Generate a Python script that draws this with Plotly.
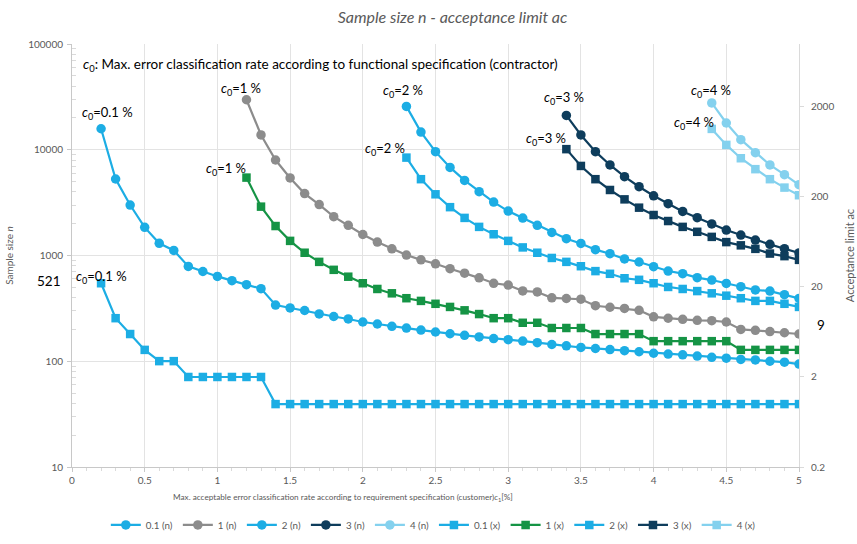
import math
import plotly.graph_objects as go

# Max. acceptable error classification rate c1 [%] (customer)
RATES = [0.2, 0.3, 0.4, 0.5, 0.6, 0.7, 0.8, 0.9, 1.0, 1.1, 1.2, 1.3, 1.4, 1.5, 1.6,
         1.7, 1.8, 1.9, 2.0, 2.1, 2.2, 2.3, 2.4, 2.5, 2.6, 2.7, 2.8, 2.9, 3.0, 3.1,
         3.2, 3.3, 3.4, 3.5, 3.6, 3.7, 3.8, 3.9, 4.0, 4.1, 4.2, 4.3, 4.4, 4.5, 4.6,
         4.7, 4.8, 4.9, 5.0]

# Sample size n per contractor rate c0
n_01 = [15800, 5290, 3000, 1845, 1303, 1117, 789, 706, 634, 578, 530, 486, 340, 319,
        302, 280, 265, 251, 235, 225, 214, 206, 197, 189, 182, 176, 170, 164, 160, 155,
        150, 144, 140, 135, 132, 129, 126, 123, 119, 117, 115, 112, 109, 107, 104, 103,
        100, 98, 94]
n_1 = [29700, 13800, 8000, 5410, 3850, 3030, 2330, 1930, 1580, 1340, 1156, 1010, 910,
       835, 750, 680, 615, 546, 525, 462, 452, 398, 392, 386, 335, 324, 316, 303, 263,
       255, 249, 244, 242, 235, 200, 196, 191, 186, 181]
n_2 = [25700, 14700, 9590, 6810, 5130, 4010, 3200, 2630, 2260, 1930, 1650, 1442, 1300,
       1135, 1040, 927, 868, 783, 713, 673, 617, 586, 545, 507, 472, 461, 426, 393]
n_3 = [21100, 13800, 9590, 7180, 5560, 4470, 3670, 3090, 2610, 2280, 1990, 1740, 1560,
       1400, 1275, 1160, 1057]
n_4 = [27700, 17900, 12450, 9380, 7180, 5810, 4670]

# Acceptance limit ac per contractor rate c0
ac_01 = [22, 9, 6, 4, 3, 3, 2, 2, 2, 2, 2, 2, 1, 1, 1, 1, 1, 1, 1, 1, 1, 1, 1, 1, 1, 1,
         1, 1, 1, 1, 1, 1, 1, 1, 1, 1, 1, 1, 1, 1, 1, 1, 1, 1, 1, 1, 1, 1, 1]
ac_1 = [328, 156, 95, 65, 48, 38, 31, 26, 22, 19, 17, 15, 14, 13, 12, 11, 10, 9, 9, 8, 8,
        7, 7, 7, 6, 6, 6, 6, 5, 5, 5, 5, 5, 5, 4, 4, 4, 4, 4]
ac_2 = [547, 315, 214, 154, 117, 93, 77, 65, 55, 48, 42, 38, 34, 30, 28, 25, 24, 22, 20,
        19, 18, 17, 16, 15, 14, 14, 13, 12]
ac_3 = [679, 442, 315, 239, 188, 152, 126, 108, 93, 82, 72, 63, 58, 53, 47, 44, 40]
ac_4 = [1140, 757, 538, 407, 315, 254, 209]

C0_LABELS = ["0.1", "1", "2", "3", "4"]

FONT = "Lato, 'Open Sans', sans-serif"
GREY_TXT = "#595959"
BLUE = "#1CADE4"
GREY = "#8C8C8C"
GREEN = "#159445"
NAVY = "#0E3D5C"
PALE = "#84D1EE"


def rates_for(values):
    return RATES[len(RATES) - len(values):]


n_series = [n_01, n_1, n_2, n_3, n_4]
ac_series = [ac_01, ac_1, ac_2, ac_3, ac_4]
n_colors = [BLUE, GREY, BLUE, NAVY, PALE]
ac_colors = [BLUE, GREEN, BLUE, NAVY, PALE]

fig = go.Figure()

for lab, vals, col in zip(C0_LABELS, n_series, n_colors):
    fig.add_trace(go.Scatter(
        x=rates_for(vals), y=vals, name=f"{lab} (n)", mode="lines+markers",
        line=dict(color=col, width=2.2),
        marker=dict(symbol="circle", size=9.5, color=col),
        yaxis="y"))

for lab, vals, col in zip(C0_LABELS, ac_series, ac_colors):
    fig.add_trace(go.Scatter(
        x=rates_for(vals), y=vals, name=f"{lab} (x)", mode="lines+markers",
        line=dict(color=col, width=2.2),
        marker=dict(symbol="square", size=8.5, color=col),
        yaxis="y2"))

annotations = []

# c0 labels at the first point of each curve
n_shifts = [(6, 16), (-5, 11), (-3, 15), (-2, 17), (-1, 12)]
ac_shifts = [(0, 6), (-20, 9), (-21, 9), (-20, 10), (-18, 6)]
for lab, vals, (dx, dy) in zip(C0_LABELS, n_series, n_shifts):
    annotations.append(dict(
        x=rates_for(vals)[0], y=math.log10(vals[0]), xref="x", yref="y",
        text=f"<i>c</i><sub>0</sub>={lab} %", showarrow=False,
        xshift=dx, yshift=dy, font=dict(family=FONT, size=13, color="#000000")))
for lab, vals, (dx, dy) in zip(C0_LABELS, ac_series, ac_shifts):
    annotations.append(dict(
        x=rates_for(vals)[0], y=math.log10(vals[0]), xref="x", yref="y2",
        text=f"<i>c</i><sub>0</sub>={lab} %", showarrow=False,
        xshift=dx, yshift=dy, font=dict(family=FONT, size=13, color="#000000")))

annotations.append(dict(
    x=0.013, y=0.951, xref="paper", yref="paper", xanchor="left", yanchor="middle",
    text="<i>c</i><sub>0</sub>: Max. error classification rate according to functional specification (contractor)",
    showarrow=False, font=dict(family=FONT, size=13.5, color="#000000")))

annotations.append(dict(
    x=0, y=math.log10(521), xref="paper", yref="y", xanchor="right",
    text="521", showarrow=False, xshift=-9, yshift=4,
    font=dict(family=FONT, size=13.5, color="#000000")))
annotations.append(dict(
    x=1, y=math.log10(9), xref="paper", yref="y2", xanchor="center",
    text="9", showarrow=False, xshift=22, yshift=-7,
    font=dict(family=FONT, size=13.5, color="#000000")))

annotations.append(dict(
    x=0.373, y=-0.071, xref="paper", yref="paper", xanchor="center", yanchor="middle",
    text="Max. acceptable error classification rate according to requirement specification (customer)<i>c</i><sub>1</sub>[%]",
    showarrow=False, font=dict(family=FONT, size=8.2, color=GREY_TXT)))

fig.update_layout(
    width=857, height=544,
    margin=dict(l=72, r=58, t=44, b=77, autoexpand=False),
    paper_bgcolor="white", plot_bgcolor="white",
    font=dict(family=FONT, size=10, color=GREY_TXT),
    title=dict(text="<i>Sample size n - acceptance limit ac</i>",
               x=0.528, xanchor="center", y=0.968, yanchor="middle",
               font=dict(family=FONT, size=16, color=GREY_TXT)),
    showlegend=True,
    legend=dict(orientation="h", x=0.497, xanchor="center",
                yref="container", y=0.035, yanchor="middle",
                font=dict(family=FONT, size=9.8, color=GREY_TXT),
                itemwidth=30, tracegroupgap=0, bgcolor="rgba(0,0,0,0)"),
    annotations=annotations,
    xaxis=dict(range=[0, 5], tickvals=[0, 0.5, 1, 1.5, 2, 2.5, 3, 3.5, 4, 4.5, 5],
               ticktext=["0", "0.5", "1", "1.5", "2", "2.5", "3", "3.5", "4", "4.5", "5"],
               showgrid=True, gridcolor="#E3E3E3", gridwidth=1,
               showline=True, linecolor="#C8C8C8", linewidth=1,
               ticks="outside", ticklen=4, tickcolor="#C8C8C8",
               minor=dict(dtick=0.1, ticks="outside", ticklen=3, tickcolor="#DADADA"),
               zeroline=False, tickfont=dict(size=10, color=GREY_TXT)),
    yaxis=dict(type="log", range=[1, 5],
               tickvals=[10, 100, 1000, 10000, 100000],
               ticktext=["10", "100", "1000", "10000", "100000"],
               showgrid=True, gridcolor="#E3E3E3", gridwidth=1,
               showline=True, linecolor="#C8C8C8", linewidth=1,
               ticks="outside", ticklen=4, tickcolor="#C8C8C8", ticklabelstandoff=2,
               minor=dict(tickvals=[k * 10 ** d for d in range(1, 5) for k in range(2, 10)],
                          ticks="inside", ticklen=4, tickcolor="#DADADA", showgrid=False),
               zeroline=False, tickfont=dict(size=10, color=GREY_TXT),
               title=dict(text="Sample size <i>n</i>", standoff=12,
                          font=dict(size=10, color=GREY_TXT))),
    yaxis2=dict(type="log", range=[math.log10(0.2), 4], overlaying="y", side="right",
                tickvals=[0.2, 2, 20, 200, 2000],
                ticktext=["0.2", "2", "20", "200", "2000"],
                showgrid=False, showline=True, linecolor="#DADADA", linewidth=1,
                ticks="outside", ticklen=4, tickcolor="#DADADA", ticklabelstandoff=5,
                zeroline=False, tickfont=dict(size=10, color=GREY_TXT),
                title=dict(text="Acceptance limit ac", standoff=12,
                           font=dict(size=11, color=GREY_TXT))),
)

fig.write_html("out.html")
